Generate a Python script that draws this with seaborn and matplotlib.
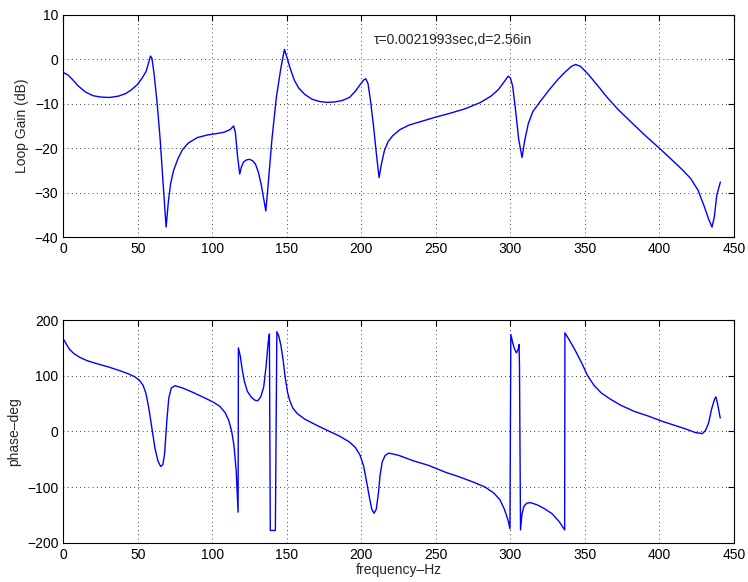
import numpy as np
import pandas as pd
import seaborn as sns
import matplotlib
matplotlib.use("Agg")
import matplotlib.pyplot as plt

# Loop gain (dB) vs frequency
gain_freq = [0, 3, 6, 10, 15, 20, 25, 31, 37, 42, 46, 50, 53, 55.5, 57.5, 58.5,
             59.5, 61, 63, 65, 67, 69, 70.5, 72, 74, 77, 80, 84, 90, 97, 103,
             108, 112, 114.3, 115.5, 117, 118.4, 119.5, 121, 123, 125, 127, 129,
             131, 133, 135.9, 137.5, 140, 143, 146, 148.4, 150, 152, 155, 158,
             162, 167, 172, 177, 182, 187, 192, 196, 199, 201.5, 203, 204.5, 206,
             208, 210, 211.9, 213.5, 215.5, 218, 221, 226, 232, 240, 250, 260,
             270, 280, 287, 292, 296, 298.5, 300, 301.5, 303.5, 305.5, 307.8,
             309.5, 312, 315, 320, 326, 332, 337, 341, 343.8, 347, 352, 358, 365,
             372, 380, 390, 400, 408, 415, 421, 426, 430, 433, 435.3, 436.8,
             438.5, 440.9]
gain_db = [-3.0, -3.5, -4.5, -6.0, -7.4, -8.2, -8.5, -8.6, -8.3, -7.7, -6.8, -5.6,
           -4.2, -2.8, -0.5, 0.7, 0.2, -3.5, -10, -18, -28, -37.7, -32, -28, -25,
           -22.3, -20.3, -18.8, -17.6, -17.0, -16.7, -16.4, -15.8, -15.0, -16.5,
           -22, -25.8, -24.2, -23.1, -22.6, -22.5, -22.8, -23.6, -25.5, -28.5,
           -34.1, -28, -18, -8.5, -2, 2.2, 0.5, -1.8, -4.7, -6.5, -7.9, -9.0,
           -9.5, -9.7, -9.6, -9.3, -8.6, -7.2, -5.8, -4.7, -4.4, -5.5, -9, -14.5,
           -21, -26.6, -23.5, -20.5, -18.5, -17.2, -15.8, -14.8, -14.0, -13.0,
           -12.1, -11.1, -9.7, -8.3, -6.8, -5.0, -3.8, -4.2, -6, -11.5, -17.8,
           -22.1, -18.5, -14.5, -11.8, -9.5, -6.9, -4.5, -2.8, -1.6, -1.2, -1.6,
           -3.3, -5.7, -8.6, -11.2, -13.8, -17, -20, -22.5, -24.7, -26.8, -29.5,
           -33, -35.9, -37.7, -35.5, -30.5, -27.6]

# Phase (deg) vs frequency
phase_freq = [0, 2, 4, 7, 11, 16, 22, 30, 38, 44, 48, 51, 53.5, 55.5, 57.5, 59.5,
              61.5, 63.5, 65.3, 66.8, 68, 69.5, 70.8, 72.5, 75, 80, 87, 95, 101,
              105, 108.5, 111, 113, 114.5, 116, 117.3, 117.5, 118.8, 120, 121.5,
              123.5, 126, 128.5, 130.5, 132.5, 134.5, 136, 137.5, 138.3, 138.9,
              142.3, 143.3, 144.5, 146, 147.5, 149, 150.5, 152, 154, 157, 162, 170,
              177, 185, 192, 196, 199, 201.5, 203.5, 205.5, 207, 208.5, 210, 211.5,
              212.5, 214, 216, 218.5, 225, 235, 245, 257, 265, 275, 283, 289, 293,
              296, 298.5, 299.7, 300.3, 301.5, 302.5, 304, 305.2, 305.8, 306.1,
              306.8, 307.7, 309, 311, 313.5, 318, 323, 328, 333, 336.4, 336.6, 340,
              344, 348, 351.6, 356, 361, 367, 374, 383, 392, 402, 410, 418, 424,
              428.9, 431, 433, 435, 437, 437.9, 439, 440.8]
phase_deg = [166, 157, 148, 140, 133, 127, 122, 116, 109, 103, 98, 92, 83, 68, 40,
             5, -30, -53, -63, -60, -40, 20, 60, 78, 82, 78, 70, 60, 52, 45, 34,
             20, 0, -25, -70, -145, 150, 135, 112, 90, 72, 62, 56, 55, 62, 80,
             115, 160, 175, -178, -178, 179, 172, 155, 128, 95, 70, 55, 42, 32, 22,
             11, 2, -8, -19, -29, -42, -62, -90, -120, -140, -147, -140, -110, -80,
             -55, -43, -39, -43, -53, -61, -74, -81, -91, -100, -111, -123, -140,
             -160, -175, 174, 160, 150, 141, 147, 156, 120, -177, -150, -135, -129,
             -128, -132, -139, -148, -163, -177, 177, 162, 143, 122, 101, 83, 69,
             58, 47, 36, 28, 18, 11, 4, -2, -4, 2, 15, 40, 58, 62, 50, 24]

sns.set_style("white")
plt.rcParams["font.family"] = ["Liberation Sans", "DejaVu Sans"]
plt.rcParams["font.size"] = 10

fig = plt.figure(figsize=(7.48, 5.82), dpi=100)
ax1 = fig.add_axes([0.0846, 0.5923, 0.8966, 0.3825])
ax2 = fig.add_axes([0.0846, 0.0675, 0.8966, 0.3826])

gain = pd.DataFrame({"f": gain_freq, "g": gain_db})
phase = pd.DataFrame({"f": phase_freq, "p": phase_deg})

sns.lineplot(data=gain, x="f", y="g", ax=ax1, color="blue", lw=1,
             sort=False, estimator=None)
sns.lineplot(data=phase, x="f", y="p", ax=ax2, color="blue", lw=1,
             sort=False, estimator=None)

ax1.set_xlim(0, 450)
ax1.set_ylim(-40, 10)
ax1.set_yticks(range(-40, 11, 10))
ax2.set_xlim(0, 450)
ax2.set_ylim(-200, 200)
ax2.set_yticks(range(-200, 201, 100))

for ax in (ax1, ax2):
    ax.set_xticks(range(0, 451, 50))
    ax.grid(True, color="black", linestyle=(0, (1, 4)), lw=0.6)
    ax.tick_params(direction="in", top=True, right=True, length=4,
                   labelsize=10, colors="black")
    for s in ax.spines.values():
        s.set_color("black")
        s.set_linewidth(0.8)
    ax.set_xlabel("")

ax1.set_ylabel("Loop Gain (dB)", fontsize=10)
ax2.set_ylabel("phase\u2013deg", fontsize=10)
ax2.set_xlabel("frequency\u2013Hz", fontsize=10, labelpad=1)
ax1.text(208, 4.3, "\u03c4=0.0021993sec,d=2.56in", fontsize=10, va="center")

fig.savefig("out.png", dpi=100)
